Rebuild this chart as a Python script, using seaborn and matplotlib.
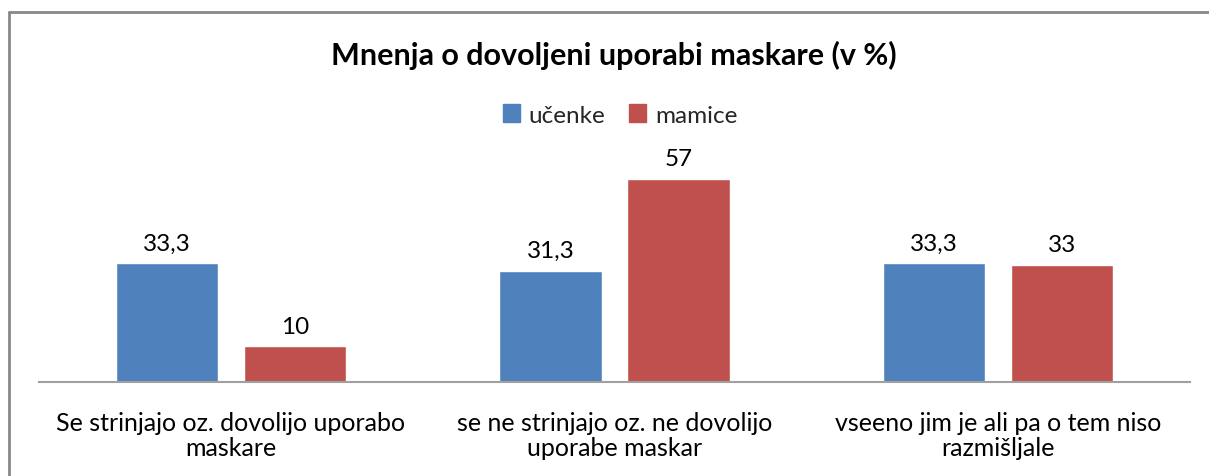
import matplotlib
matplotlib.use("Agg")
import matplotlib.pyplot as plt
import seaborn as sns
import pandas as pd
from matplotlib.lines import Line2D
from matplotlib.patches import Rectangle

categories = ["Se strinjajo oz. dovolijo uporabo\nmaskare",
              "se ne strinjajo oz. ne dovolijo\nuporabe maskar",
              "vseeno jim je ali pa o tem niso\nrazmišljale"]
series_names = ["učenke", "mamice"]
ucenke = [33.3, 31.3, 33.3]
mamice = [10, 57, 33]
colors = ["#4F81BD", "#C0504D"]
title = "Mnenja o dovoljeni uporabi maskare (v %)"

df = pd.DataFrame({
    "cat": categories * 2,
    "serija": [series_names[0]] * 3 + [series_names[1]] * 3,
    "val": ucenke + mamice,
})

sns.set_theme(style="white")
plt.rcParams['font.family'] = ['Lato', 'DejaVu Sans']

fig = plt.figure(figsize=(12.09, 4.77), dpi=100)
ax = fig.add_axes([39/1209, (477-383)/477, 1151/1209, 213.6/477])

sns.barplot(data=df, x="cat", y="val", hue="serija", palette=colors,
            width=0.668, gap=0.2, ax=ax, legend=False, saturation=1)

ax.set_xlim(-0.5, 2.5)
ax.set_ylim(0, 60)
ax.set_xlabel("")
ax.set_ylabel("")
ax.set_yticks([])
for s in ["top", "right", "left"]:
    ax.spines[s].set_visible(False)
ax.spines["bottom"].set_color("#A0A0A0")
ax.spines["bottom"].set_linewidth(1.5)
ax.tick_params(axis="x", length=0, pad=21, labelsize=18, colors="black")
for lbl in ax.get_xticklabels():
    lbl.set_linespacing(1.1)

for cont in ax.containers:
    labels = [f"{v:g}".replace(".", ",") for v in cont.datavalues]
    ax.bar_label(cont, labels=labels, padding=7, fontsize=17.5, color="black")

fig.text(614/1209, 1 - 55/477, title, ha="center", va="center",
         fontsize=22, fontweight="bold", color="black")

handles = [Rectangle((0, 0), 1, 1, color=c) for c in colors]
fig.legend(handles, series_names, loc="center", bbox_to_anchor=(620/1209, 1 - 116/477),
           ncol=2, frameon=False, fontsize=17.5, handlelength=0.7, handleheight=0.7,
           handletextpad=0.35, columnspacing=1.0)

fig.add_artist(Line2D([9/1209, 9/1209], [0, 1 - 13/477], transform=fig.transFigure,
                      color="#888888", linewidth=2))
fig.add_artist(Line2D([9/1209, 1], [1 - 13/477, 1 - 13/477], transform=fig.transFigure,
                      color="#888888", linewidth=2))

fig.savefig("out.png", dpi=100)
